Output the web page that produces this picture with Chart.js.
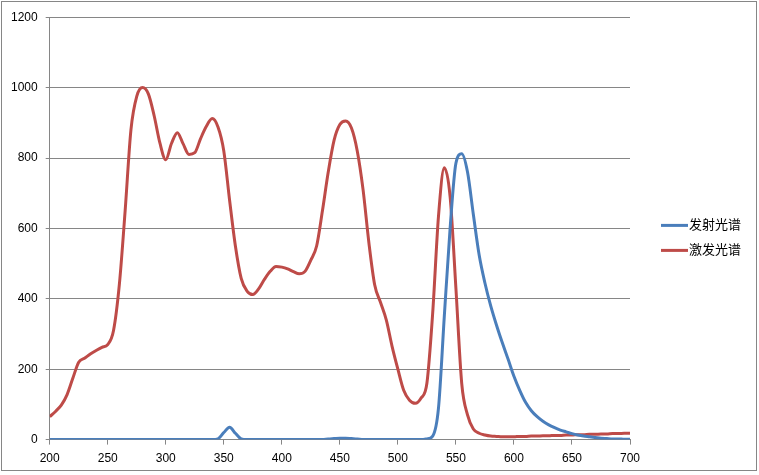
<!DOCTYPE html>
<html>
<head>
<meta charset="utf-8">
<script src="https://cdn.jsdelivr.net/npm/chart.js@4/dist/chart.umd.min.js"></script>
<style>
  body { margin: 0; background: #fff; }
  #box { position: relative; margin: 1px 0 0 1px; width: 754px; height: 468px; border: 1px solid #868686; }
  canvas { position: absolute; left: 0; top: 0; display: block; }
</style>
</head>
<body>
<div id="box"><canvas id="chart" width="754" height="471"></canvas></div>
<script>
// длины волн, шаг 5 нм
const wavelengths = [];
for (let w = 200; w <= 700; w += 5) wavelengths.push(w);

// 发射光谱 (синяя)
const emission = [
  0, 0, 0, 0, 0, 0, 0, 0, 0, 0,            // 200-245
  0, 0, 0, 0, 0, 0, 0, 0, 0, 0,            // 250-295
  0, 0, 0, 0, 0, 0, 0, 0, 0, 2,            // 300-345
  20, 35, 18, 2, 0, 0, 0, 0, 0, 0,         // 350-395
  0, 0, 0, 0, 0, 0, 0, 0, 2, 3,            // 400-445
  4, 4, 3, 2, 0, 0, 0, 0, 0, 0,            // 450-495
  0, 0, 0, 0, 0, 2, 10, 90, 350, 600,      // 500-545
  785, 812, 760, 640, 525, 445, 380, 325, 275, 228, // 550-595
  180, 140, 106, 82, 65, 52, 42, 34, 27, 22,        // 600-645
  17, 13, 10, 8, 6, 4, 3, 2, 2, 1,                  // 650-695
  1                                                 // 700
];

// 激发光谱 (красная)
const excitation = [
  65, 80, 98, 128, 175, 220, 231, 243, 253, 262,     // 200-245
  270, 310, 440, 650, 880, 975, 1000, 982, 920, 842, // 250-295
  795, 842, 872, 840, 810, 815, 855, 890, 912, 888,  // 300-345
  820, 680, 550, 458, 422, 412, 428, 455, 478, 492,  // 350-395
  490, 485, 477, 471, 478, 510, 550, 650, 760, 850,  // 400-445
  895, 905, 885, 820, 710, 560, 440, 390, 340, 265,  // 450-495
  200, 140, 112, 103, 118, 160, 360, 635, 772, 690,  // 500-545
  430, 160, 70, 30, 18, 13, 10, 9, 8, 8,             // 550-595
  8, 9, 9, 10, 10, 11, 11, 12, 12, 13,               // 600-645
  13, 14, 14, 15, 15, 16, 16, 17, 17, 18,            // 650-695
  18                                                 // 700
];

const seriesNames = ['发射光谱', '激发光谱'];
const seriesColors = ['#4A7EBB', '#BE4B48'];

const toPoints = arr => arr.map((v, i) => ({x: wavelengths[i], y: v}));

const gridColor = '#868686';
const tickFont = {family: '"Liberation Sans", Arial, sans-serif', size: 12};

// легенда справа, как в Excel: короткая линия + подпись
const sideLegend = {
  id: 'sideLegend',
  afterDraw(chart) {
    const ctx = chart.ctx;
    const area = chart.chartArea;
    const x0 = area.right + 31;
    const y0 = (area.top + area.bottom) / 2 - 3;
    ctx.save();
    ctx.font = '13px "Noto Sans CJK SC", sans-serif';
    ctx.textBaseline = 'middle';
    ctx.fillStyle = '#000';
    chart.data.datasets.forEach((ds, i) => {
      const y = y0 + i * 25;
      ctx.strokeStyle = ds.borderColor;
      ctx.lineWidth = 3;
      ctx.beginPath();
      ctx.moveTo(x0, y);
      ctx.lineTo(x0 + 27, y);
      ctx.stroke();
      ctx.fillText(ds.label, x0 + 28, y - 1);
    });
    ctx.restore();
  }
};

new Chart(document.getElementById('chart'), {
  type: 'line',
  data: {
    datasets: [
      {label: seriesNames[0], data: toPoints(emission), borderColor: seriesColors[0], backgroundColor: seriesColors[0], borderWidth: 3, pointRadius: 0, cubicInterpolationMode: 'monotone'},
      {label: seriesNames[1], data: toPoints(excitation), borderColor: seriesColors[1], backgroundColor: seriesColors[1], borderWidth: 3, pointRadius: 0, cubicInterpolationMode: 'monotone'}
    ]
  },
  plugins: [sideLegend],
  options: {
    responsive: false,
    animation: false,
    layout: {padding: {left: 1, top: 14, right: 126, bottom: 0}},
    plugins: {
      tooltip: {enabled: false},
      legend: {display: false}
    },
    scales: {
      x: {
        type: 'linear',
        min: 200, max: 700,
        ticks: {stepSize: 50, color: '#000', font: tickFont, padding: 7, maxRotation: 0},
        grid: {drawOnChartArea: false, color: gridColor, tickLength: 5},
        border: {color: gridColor}
      },
      y: {
        min: 0, max: 1200,
        ticks: {stepSize: 200, color: '#000', font: tickFont, padding: 8, callback: v => String(v)},
        grid: {color: gridColor, tickLength: 4},
        border: {color: gridColor}
      }
    }
  }
});
</script>
</body>
</html>
